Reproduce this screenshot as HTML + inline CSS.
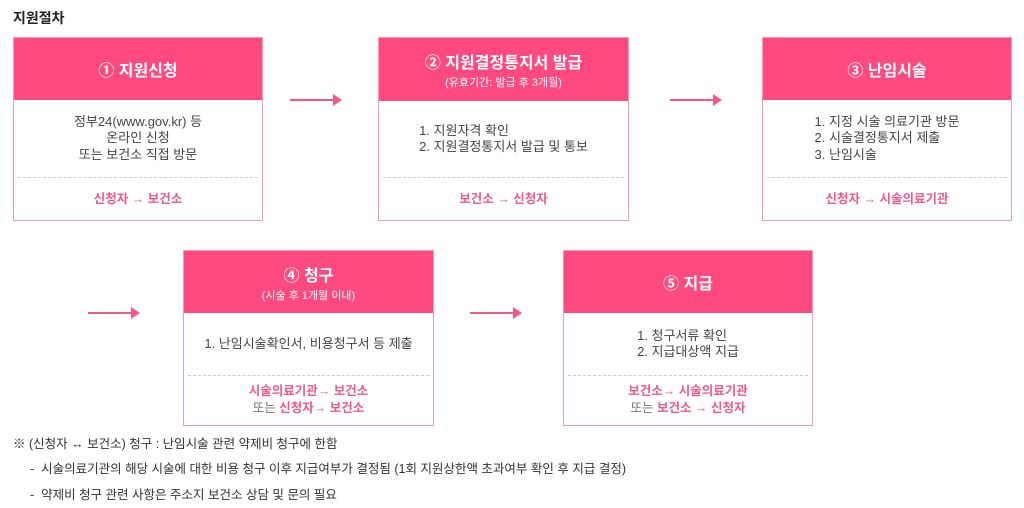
<!DOCTYPE html>
<html><head><meta charset="utf-8"><style>
*{margin:0;padding:0;box-sizing:border-box}
body{width:1024px;height:508px;background:#fff;position:relative;overflow:hidden;font-family:"Liberation Sans","Noto Sans CJK KR",sans-serif;color:#333}
.t{position:absolute;left:13px;top:8px;font-size:14px;font-weight:bold;color:#222}
.b{position:absolute;border:1.5px solid #f59ab8;background:#fff}
.h{position:absolute;left:0;right:0;top:0;background:#ff4a80;color:#fff;text-align:center;display:flex;flex-direction:column;justify-content:center;font-weight:bold;font-size:16px}
.h small{font-size:11px;font-weight:normal;margin-top:1px}
.c{position:absolute;left:0;right:0;display:flex;justify-content:center;align-items:center;font-size:13px;line-height:16.5px;color:#444;text-align:center}
.d{position:absolute;left:4px;right:4px;border-top:1px dashed #ccc}
.f{position:absolute;left:0;right:0;text-align:center;font-size:12.5px;line-height:17px;color:#f0588f;font-weight:bold;display:flex;flex-direction:column;justify-content:center}
.g{color:#777;font-weight:normal}
.a{position:absolute;height:2px;background:#f0588f}
.a:after{content:"";position:absolute;right:-2px;top:-5px;border-left:9px solid #f0588f;border-top:6px solid transparent;border-bottom:6px solid transparent}
.n{position:absolute;font-size:12.5px;color:#333}
</style></head><body>
<div class="t">지원절차</div>

<div class="b" style="left:13px;top:37px;width:250px;height:184px">
 <div class="h" style="height:62px">① 지원신청</div>
 <div class="c" style="top:62px;height:77px">정부24(www.gov.kr) 등<br>온라인 신청<br>또는 보건소 직접 방문</div>
 <div class="d" style="top:139px"></div>
 <div class="f" style="top:140px;height:42px">신청자 → 보건소</div>
</div>
<div class="a" style="left:290px;top:99px;width:50px"></div>

<div class="b" style="left:378px;top:37px;width:251px;height:184px">
 <div class="h" style="height:63px">② 지원결정통지서 발급<small>(유효기간: 발급 후 3개월)</small></div>
 <div class="c" style="top:63px;height:76px;text-align:left">1. 지원자격 확인<br>2. 지원결정통지서 발급 및 통보</div>
 <div class="d" style="top:139px"></div>
 <div class="f" style="top:140px;height:42px">보건소 → 신청자</div>
</div>
<div class="a" style="left:670px;top:99px;width:50px"></div>

<div class="b" style="left:762px;top:37px;width:250px;height:184px">
 <div class="h" style="height:62px">③ 난임시술</div>
 <div class="c" style="top:62px;height:77px;text-align:left">1. 지정 시술 의료기관 방문<br>2. 시술결정통지서 제출<br>3. 난임시술</div>
 <div class="d" style="top:139px"></div>
 <div class="f" style="top:140px;height:42px">신청자 → 시술의료기관</div>
</div>

<div class="a" style="left:88px;top:312px;width:50px"></div>
<div class="b" style="left:183px;top:250px;width:251px;height:176px">
 <div class="h" style="height:62px">④ 청구<small>(시술 후 1개월 이내)</small></div>
 <div class="c" style="top:62px;height:62px">1. 난임시술확인서, 비용청구서 등 제출</div>
 <div class="d" style="top:124px"></div>
 <div class="f" style="top:125px;height:48px"><span>시술의료기관→ 보건소</span><span><span class="g">또는</span> 신청자→ 보건소</span></div>
</div>
<div class="a" style="left:470px;top:312px;width:50px"></div>

<div class="b" style="left:563px;top:250px;width:250px;height:176px">
 <div class="h" style="height:62px">⑤ 지급</div>
 <div class="c" style="top:62px;height:62px;text-align:left">1. 청구서류 확인<br>2. 지급대상액 지급</div>
 <div class="d" style="top:124px"></div>
 <div class="f" style="top:125px;height:48px"><span>보건소→ 시술의료기관</span><span><span class="g">또는</span> 보건소 → 신청자</span></div>
</div>

<div class="n" style="left:13px;top:433px">※ (신청자 ↔ 보건소) 청구 : 난임시술 관련 약제비 청구에 한함</div>
<div class="n" style="left:30px;top:458px">-&nbsp; 시술의료기관의 해당 시술에 대한 비용 청구 이후 지급여부가 결정됨 (1회 지원상한액 초과여부 확인 후 지급 결정)</div>
<div class="n" style="left:30px;top:484px">-&nbsp; 약제비 청구 관련 사항은 주소지 보건소 상담 및 문의 필요</div>
</body></html>
